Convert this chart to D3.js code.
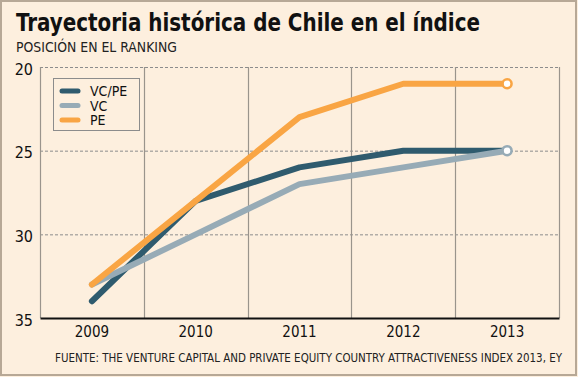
<!DOCTYPE html>
<html>
<head>
<meta charset="utf-8">
<script src="https://cdn.jsdelivr.net/npm/d3@7"></script>
<style>
  html, body { margin: 0; padding: 0; background: #fdefde; }
  svg { display: block; font-family: "DejaVu Sans Condensed", "DejaVu Sans", sans-serif; }
</style>
</head>
<body>
<svg id="chart" width="578" height="377"></svg>
<script>
const years = ["2009", "2010", "2011", "2012", "2013"];
const vcpe = [34, 28, 26, 25, 25];
const vc = [33, 30, 27, 26, 25];
const pe = [33, 28, 23, 21, 21];
const yTicks = [20, 25, 30, 35];

const series = [
  { name: "VC/PE", values: vcpe, color: "#2f5b6e", marker: false },
  { name: "VC", values: vc, color: "#97abb6", marker: true },
  { name: "PE", values: pe, color: "#f9a544", marker: true }
];

const W = 578, H = 377;
const margin = { top: 67, right: 19, bottom: 59, left: 40 };
const width = W - margin.left - margin.right;
const height = H - margin.top - margin.bottom;
const fontCond = "DejaVu Sans Condensed, DejaVu Sans, sans-serif";

const svg = d3.select("#chart");

// background + frame
svg.append("rect").attr("x", 1).attr("y", 1).attr("width", W - 3).attr("height", H - 3)
  .attr("fill", "#fdefde").attr("stroke", "#b7a896").attr("stroke-width", 2);

svg.append("text").attr("x", 16).attr("y", 31)
  .attr("font-size", 25).attr("font-weight", "bold").attr("fill", "#111")
  .attr("textLength", 464).attr("lengthAdjust", "spacingAndGlyphs")
  .text("Trayectoria histórica de Chile en el índice");

svg.append("text").attr("x", 16).attr("y", 52)
  .attr("font-size", 14).attr("fill", "#222")
  .attr("textLength", 161).attr("lengthAdjust", "spacingAndGlyphs")
  .text("POSICIÓN EN EL RANKING");

svg.append("text").attr("x", 55).attr("y", 362)
  .attr("font-size", 11.5).attr("fill", "#222")
  .attr("textLength", 507).attr("lengthAdjust", "spacingAndGlyphs")
  .text("FUENTE: THE VENTURE CAPITAL AND PRIVATE EQUITY COUNTRY ATTRACTIVENESS INDEX 2013, EY");

const x = d3.scaleBand().domain(years).range([0, width]);
const y = d3.scaleLinear().domain([20, 35]).range([0, height]);

const g = svg.append("g").attr("transform", `translate(${margin.left},${margin.top})`);

// horizontal dashed grid
g.selectAll(".hgrid").data(yTicks.filter(d => d < 35)).enter().append("line")
  .attr("x1", 0).attr("x2", width)
  .attr("y1", d => y(d) + 0.5).attr("y2", d => y(d) + 0.5)
  .attr("stroke", "#8c8c8c").attr("stroke-dasharray", "3,2");

// vertical solid grid at band boundaries
const bounds = years.map(d => x(d)).concat([width]);
g.selectAll(".vgrid").data(bounds).enter().append("line")
  .attr("x1", d => Math.round(d) + 0.5).attr("x2", d => Math.round(d) + 0.5)
  .attr("y1", 0).attr("y2", height)
  .attr("stroke", "#9a948c").attr("stroke-width", 1.2);

// y axis labels
const yAxis = g.append("g").call(d3.axisLeft(y).tickValues(yTicks).tickSize(0).tickPadding(7));
yAxis.select(".domain").remove();
yAxis.selectAll("text").attr("font-size", 16).attr("fill", "#111")
  .attr("font-family", fontCond).attr("dy", "0.45em");

// x axis
const xAxis = g.append("g").attr("transform", `translate(0,${height})`)
  .call(d3.axisBottom(x).tickSize(0).tickPadding(8));
xAxis.select(".domain").attr("stroke", "#111").attr("stroke-width", 2);
xAxis.selectAll("text").attr("font-size", 15).attr("fill", "#111")
  .attr("font-family", fontCond);

// lines
const line = d3.line()
  .x((d, i) => x(years[i]) + x.bandwidth() / 2)
  .y(d => y(d));

g.selectAll(".series").data(series).enter().append("path")
  .attr("d", d => line(d.values))
  .attr("fill", "none").attr("stroke", d => d.color)
  .attr("stroke-width", 6).attr("stroke-linecap", "round").attr("stroke-linejoin", "round");

// end markers
g.selectAll(".marker").data(series.filter(s => s.marker)).enter().append("circle")
  .attr("cx", x(years[years.length - 1]) + x.bandwidth() / 2)
  .attr("cy", d => y(d.values[d.values.length - 1]))
  .attr("r", 4.5).attr("fill", "#fff")
  .attr("stroke", d => d.color).attr("stroke-width", 2.5);

// legend
const lg = svg.append("g").attr("transform", "translate(53,78)");
lg.append("rect").attr("x", 0.5).attr("y", 0.5).attr("width", 86).attr("height", 52)
  .attr("fill", "#fdefde").attr("stroke", "#8c8c8c");
series.forEach((s, i) => {
  const cy = 13 + i * 14.5;
  lg.append("line").attr("x1", 9).attr("x2", 25).attr("y1", cy).attr("y2", cy)
    .attr("stroke", s.color).attr("stroke-width", 5).attr("stroke-linecap", "round");
  lg.append("text").attr("x", 37).attr("y", cy + 5)
    .attr("font-size", 14).attr("fill", "#111").text(s.name);
});
</script>
</body>
</html>
